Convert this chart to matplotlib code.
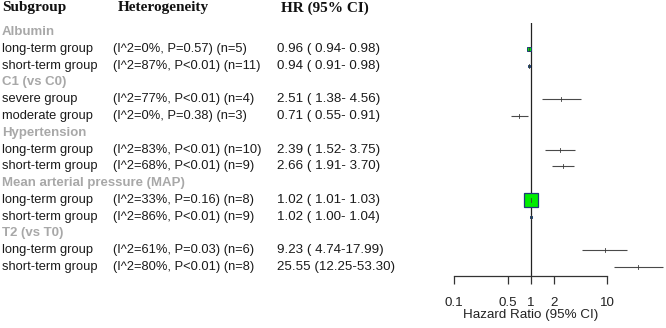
import matplotlib
matplotlib.use("Agg")
import matplotlib.pyplot as plt
import matplotlib.transforms as mtransforms
import numpy as np

# ---- data ----
groups = ["Albumin", "C1 (vs C0)", "Hypertension", "Mean arterial pressure (MAP)", "T2 (vs T0)"]
subgroups = [
    ["long-term group", "short-term group"],
    ["severe group", "moderate group"],
    ["long-term group", "short-term group"],
    ["long-term group", "short-term group"],
    ["long-term group", "short-term group"],
]
i2 = [[0, 87], [77, 0], [83, 68], [33, 86], [61, 80]]
pvals = [["=0.57", "<0.01"], ["<0.01", "=0.38"], ["<0.01", "<0.01"], ["=0.16", "<0.01"], ["=0.03", "<0.01"]]
n_studies = [[5, 11], [4, 3], [10, 9], [8, 9], [6, 8]]
hr = [[0.96, 0.94], [2.51, 0.71], [2.39, 2.66], [1.02, 1.02], [9.23, 25.55]]
lo = [[0.94, 0.91], [1.38, 0.55], [1.52, 1.91], [1.01, 1.00], [4.74, 12.25]]
hi = [[0.98, 0.98], [4.56, 0.91], [3.75, 3.70], [1.03, 1.04], [17.99, 53.30]]
weights = [[0.07, 0.035], [0.002, 0.002], [0.002, 0.002], [1.0, 0.04], [0.001, 0.001]]
tick_vals = [0.1, 0.5, 1, 2, 10]
tick_labels = ["0.1", "0.5", "1", "2", "10"]
col_headers = ["Subgroup", "Heterogeneity", "HR (95% CI)"]
xlabel = "Hazard Ratio (95% CI)"

# ---- layout ----
W, H = 666, 328
fig = plt.figure(figsize=(W / 100, H / 100), dpi=100)
row0_px, row_step = 32.0, 16.79
ax_top_px, ax_bot_px = 23.0, 276.0
x01_px, x10_px = 454.3, 607.3
ax = fig.add_axes([x01_px / W, 1 - ax_bot_px / H, (x10_px - x01_px) / W, (ax_bot_px - ax_top_px) / H])
ax.set_xscale("log")
ax.set_xlim(0.1, 10)
ax.set_ylim((ax_bot_px - row0_px) / row_step, (ax_top_px - row0_px) / row_step)
for s in ["top", "right", "left"]:
    ax.spines[s].set_visible(False)
ax.spines["bottom"].set_color("#333333")
ax.spines["bottom"].set_linewidth(0.9)
ax.set_yticks([])
ax.set_xticks(tick_vals)
ax.set_xticklabels(tick_labels)
ax.xaxis.set_minor_locator(matplotlib.ticker.NullLocator())
ax.tick_params(axis="x", direction="out", length=5.5, width=0.9, color="#333333",
               labelsize=9.6, pad=9.5, labelcolor="#222222")
for lab in ax.get_xticklabels():
    lab.set_fontfamily("Liberation Sans")
ax.set_xlabel(xlabel, fontsize=9.6, family="Liberation Sans", color="#222222", labelpad=0)
ax.axvline(1, color="#222222", lw=0.9, zorder=1)

trans = mtransforms.blended_transform_factory(fig.transFigure, ax.transData)
col_x = [2 / W, 113 / W, 277 / W]
hdr_x = [2 / W, 118 / W, 281 / W]
sans = "Liberation Sans"
fs = 9.3

# column headers
hdr_y = (8 - row0_px) / row_step
for xx, t in zip(hdr_x, col_headers):
    ax.text(xx, hdr_y, t, transform=trans, fontsize=11, family="Liberation Serif",
            fontweight="bold", va="center", ha="left", color="#111111")

row = 0
for g, grp in enumerate(groups):
    ax.text(col_x[0], row, grp, transform=trans, fontsize=fs + 0.2, family=sans, fontweight="bold",
            color="#A8A8A8", va="center", ha="left")
    row += 1
    for k in range(2):
        ax.text(col_x[0], row, subgroups[g][k], transform=trans, fontsize=fs, family=sans,
                color="#1a1a1a", va="center", ha="left")
        het = f"(I^2={i2[g][k]}%, P{pvals[g][k]}) (n={n_studies[g][k]})"
        ax.text(col_x[1], row, het, transform=trans, fontsize=fs, family=sans,
                color="#1a1a1a", va="center", ha="left")
        hrs = f"{hr[g][k]:.2f} ({lo[g][k]:5.2f}-{hi[g][k]:5.2f})"
        ax.text(col_x[2], row, hrs, transform=trans, fontsize=fs + 0.3, family=sans,
                color="#1a1a1a", va="center", ha="left")
        ax.plot([lo[g][k], hi[g][k]], [row, row], color="#4a4a4a", lw=0.8,
                clip_on=False, zorder=2, solid_capstyle="butt")
        ms = 10.2 * np.sqrt(weights[g][k])
        if ms > 1.0:
            ax.plot([hr[g][k]], [row], marker="s", markersize=ms,
                    markerfacecolor="#00EE00", markeredgecolor="#1F3A7A",
                    markeredgewidth=0.9 if ms > 5 else 0.7, linestyle="none",
                    clip_on=False, zorder=3)
        ax.plot([hr[g][k], hr[g][k]], [row - 0.12, row + 0.12], color="#3a3a3a", lw=0.6,
                clip_on=False, zorder=4)
        row += 1

fig.savefig("out.png", dpi=100)
